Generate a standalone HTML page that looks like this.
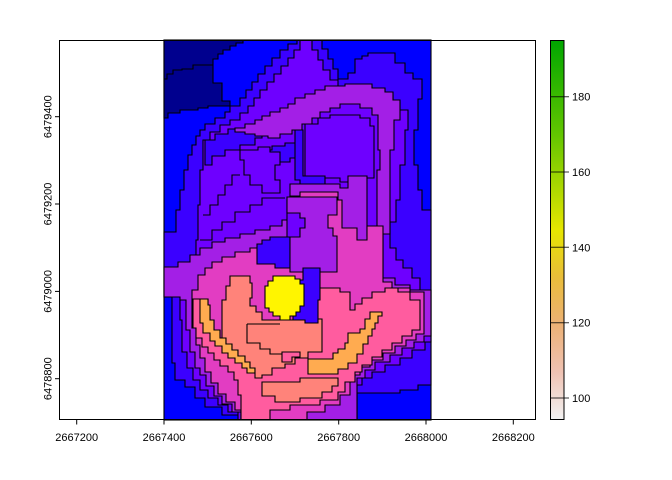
<!DOCTYPE html>
<html><head><meta charset="utf-8"><style>
html,body{margin:0;padding:0;background:#fff;}
svg{display:block;}
text{font-family:"Liberation Sans",Arial,sans-serif;font-size:11px;fill:#000;}
</style></head><body>
<svg width="672" height="480" viewBox="0 0 672 480" xmlns="http://www.w3.org/2000/svg">
<defs>
<linearGradient id="lg" x1="0" y1="1" x2="0" y2="0">
<stop offset="0" stop-color="#F2F2F2"/>
<stop offset="0.125" stop-color="#EFC2B3"/>
<stop offset="0.25" stop-color="#ECB176"/>
<stop offset="0.375" stop-color="#E9BD3A"/>
<stop offset="0.5" stop-color="#E6E600"/>
<stop offset="0.75" stop-color="#63C600"/>
<stop offset="1" stop-color="#00A600"/>
</linearGradient>
</defs>
<rect width="672" height="480" fill="#fff"/>
<g stroke="#000" stroke-width="1.1" stroke-linejoin="miter">
<rect x="164" y="40" width="267" height="380" fill="#0000FF"/>
<polygon fill="#00008E" points="164,40 243,40 243,43 236,43 236,46 230,46 230,50 223,50 223,54 218,54 218,59 213,59 213,83 222,83 222,101 230,101 230,106 208,106 208,108 198,108 198,110 180,110 180,113 168,113 168,118 164,118"/>
<polyline fill="none" points="164,79 167,79 167,74 173,74 173,70 182,70 182,69 193,69 193,65 213,65"/>
<polygon fill="#3B00FF" points="164,232 176,232 176,210 180,210 180,190 184,190 184,170 188,170 188,155 192,155 192,145 196,145 196,136 200,136 200,130 205,130 205,124 215,124 215,118 225,118 225,112 230,112 230,106 240,106 240,98 246,98 246,90 252,90 252,82 258,82 258,74 265,74 265,66 272,66 272,58 280,58 280,50 288,50 288,44 297,44 297,40 322,40 322,49 328,49 328,59 333,59 333,69 338,69 338,79 348,79 348,73 355,73 355,59 362,59 362,56 368,56 368,53 395,53 395,63 405,63 405,73 413,73 413,79 422,79 422,99 418,99 418,130 414,130 414,165 418,165 418,190 422,190 422,210 431,210 431,385 418,385 418,390 400,390 400,393 357,393 357,420 239,420 239,415 222,415 222,407 205,407 205,398 195,398 195,387 185,387 185,380 175,380 175,363 172,363 172,297 164,297"/>
<polygon fill="#6E00FF" points="300,40 312,40 312,50 318,50 318,60 323,60 323,70 330,70 330,80 338,80 338,86 372,86 372,90 385,90 385,95 393,95 393,102 400,102 400,110 408,110 408,130 405,130 405,165 400,165 400,200 396,200 396,222 390,222 390,248 396,248 396,260 403,260 403,268 412,268 412,278 420,278 420,290 431,290 431,342 425,342 425,350 412,350 412,358 400,358 400,365 385,365 385,372 372,372 372,378 362,378 362,385 357,385 357,420 238,420 238,412 228,412 228,405 218,405 218,398 208,398 208,390 200,390 200,380 193,380 193,368 187,368 187,352 182,352 182,320 180,320 180,300 185,300 185,288 190,288 190,270 196,270 196,240 198,240 198,205 200,205 200,170 203,170 203,140 210,140 210,132 220,132 220,125 230,125 230,120 240,120 240,113 248,113 248,106 254,106 254,98 260,98 260,90 267,90 267,82 274,82 274,74 281,74 281,66 288,66 288,58 294,58 294,50 300,50"/>
<polyline fill="none" points="203,215 210,215 210,205 218,205 218,195 225,195 225,185 232,185 232,175 240,175"/>
<polyline fill="none" points="200,240 212,240 212,230 222,230 222,222 235,222 235,212 250,212 250,205 262,205 262,198 285,198"/>
<polygon fill="#3B00FF" points="205,140 215,140 215,134 228,134 228,129 245,129 245,126 262,126 262,138 255,138 255,145 240,145 240,150 225,150 225,156 212,156 212,165 205,165"/>
<polygon fill="#3B00FF" points="265,150 272,150 272,146 285,146 285,143 297,143 297,158 290,158 290,162 278,162 278,158 265,158"/>
<polygon fill="#3B00FF" points="295,130 303,130 303,176 325,176 325,184 300,184 300,180 295,180"/>
<polygon fill="#6E00FF" points="240,150 258,150 258,147 270,147 270,152 280,152 280,165 275,165 275,180 280,180 280,193 262,193 262,185 250,185 250,175 244,175 244,160 240,160"/>
<polygon fill="#A31FE6" points="235,132 235,128 245,128 245,124 255,124 255,120 262,120 262,116 270,116 270,112 280,112 280,108 288,108 288,104 295,104 295,98 305,98 305,94 315,94 315,90 325,90 325,86 345,86 345,84 372,84 372,88 385,88 385,92 393,92 393,100 400,100 400,120 394,120 394,150 390,150 390,234 377,234 377,170 380,170 380,150 378,150 378,115 372,115 372,108 360,108 360,104 340,104 340,108 330,108 330,112 320,112 320,118 312,118 312,124 302,124 302,130 292,130 292,134 280,134 280,138 268,138 268,136 255,136 255,134 245,134 245,132"/>
<polygon fill="#6E00FF" points="305,124 318,124 318,118 330,118 330,115 360,115 360,118 370,118 370,126 374,126 374,178 360,178 360,182 340,182 340,178 325,178 325,176 305,176"/>
<polygon fill="#A31FE6" points="164,267 178,267 178,262 190,262 190,255 200,255 200,248 212,248 212,242 225,242 225,238 240,238 240,234 255,234 255,230 270,230 270,226 282,226 282,220 290,220 290,184 340,184 340,188 348,188 348,176 367,176 367,236 383,236 383,278 395,278 395,285 410,285 410,290 431,290 431,336 424,336 424,342 414,342 414,348 402,348 402,355 390,355 390,362 375,362 375,370 365,370 365,378 357,378 357,420 241,420 241,412 232,412 232,404 222,404 222,396 214,396 214,386 206,386 206,375 200,375 200,368 195,368 195,352 190,352 190,330 186,330 186,300 180,300 180,297 164,297"/>
<polygon fill="#E23DC2" points="192,290 198,290 198,275 205,275 205,268 212,268 212,262 222,262 222,257 235,257 235,252 250,252 250,248 262,248 262,244 275,244 275,240 290,240 290,196 300,196 300,192 338,192 338,200 342,200 342,228 357,228 357,240 367,240 367,226 383,226 383,282 392,282 392,288 410,288 410,292 424,292 424,334 416,334 416,340 406,340 406,346 395,346 395,353 383,353 383,360 370,360 370,367 360,367 360,375 350,375 350,395 340,395 340,405 325,405 325,412 307,412 307,420 241,420 241,410 235,410 235,402 226,402 226,394 218,394 218,383 211,383 211,372 205,372 205,358 200,358 200,345 196,345 196,328 192,328"/>
<polygon fill="#6E00FF" points="287,200 300,200 300,213 300,218 305,218 305,228 300,228 300,237 287,237"/>
<polygon fill="#3B00FF" points="257,244 262,244 262,240 270,240 270,237 290,237 290,268 275,268 275,264 257,264"/>
<polygon fill="#A31FE6" points="287,197 337,197 337,215 328,215 328,228 333,228 333,236 337,236 337,272 290,272 290,237 300,237 300,228 305,228 305,218 300,218 300,213 287,213"/>
<polygon fill="#FF5C9F" points="196,299 208,299 208,305 210,305 210,320 214,320 214,330 220,330 220,338 226,338 226,344 232,344 300,335 300,322 308,300 308,290 318,290 318,288 340,288 340,292 350,292 350,310 355,310 355,304 362,304 362,298 372,298 372,292 385,292 385,288 398,288 398,292 410,292 410,300 420,300 420,330 412,330 412,336 402,336 402,343 392,343 392,350 382,350 382,357 372,357 372,365 362,365 362,372 355,372 355,382 345,382 345,392 338,392 338,400 320,400 320,405 290,405 290,410 270,410 270,420 241,420 241,395 238,395 238,380 234,380 234,372 228,372 228,366 220,366 220,360 214,360 214,353 208,353 208,347 202,347 202,338 196,338 196,328 193,328 193,299"/>
<polygon fill="#FFAB50" points="200,299 208,299 208,305 210,305 210,320 214,320 214,330 220,330 220,338 226,338 226,344 232,344 232,350 238,350 238,356 245,356 245,362 250,362 250,368 255,368 255,373 247,373 247,368 242,368 242,363 235,363 235,358 228,358 228,353 222,353 222,346 215,346 215,341 210,341 210,333 203,333 203,323 200,323"/>
<polygon fill="#FFAB50" points="308,359 333,359 333,353 338,353 338,349 345,349 345,343 348,343 348,333 360,333 360,329 365,329 365,319 370,319 370,312 382,312 382,316 378,316 378,323 375,323 375,329 372,329 372,336 368,336 368,344 363,344 363,354 357,354 357,363 348,363 348,369 338,369 338,374 308,374"/>
<polygon fill="#FF837A" points="230,276 250,276 250,283 252,283 252,298 250,298 250,306 256,306 256,312 262,312 262,320 300,320 300,319 322,319 322,352 308,352 308,358 295,358 295,364 285,364 285,368 272,368 272,375 262,375 262,378 255,378 255,368 250,368 250,362 245,362 245,356 238,356 238,350 232,350 232,344 226,344 226,338 222,338 222,300 226,300 226,286 230,286"/>
<polygon fill="#FF837A" points="262,382 300,382 300,378 338,378 338,386 332,386 332,392 322,392 322,398 300,398 300,402 275,402 275,396 262,396"/>
<polygon fill="#FF5C9F" points="282,352 300,352 300,357 292,357 292,362 282,362"/>
<polyline fill="none" points="247,324 280,324"/>
<polyline fill="none" points="247,324 247,343 260,343 260,349 270,349 270,354 282,354"/>
<polygon fill="#3B00FF" points="303,268 320,268 320,300 318,300 318,323 305,323 305,320 293,320 293,300 300,300 300,280 303,280"/>
<polygon fill="#FFF500" points="273,276 295,276 295,279 300,279 300,284 304,284 304,306 300,306 300,312 296,312 296,316 290,316 290,320 280,320 280,316 273,316 273,312 269,312 269,308 265,308 265,286 268,286 268,281 273,281"/>
</g>
<rect x="59.5" y="40.5" width="476" height="379" fill="none" stroke="#000" stroke-width="1"/>
<g stroke="#000" stroke-width="1">
<line x1="76.7" y1="420" x2="76.7" y2="424.5"/>
<line x1="164" y1="420" x2="164" y2="424.5"/>
<line x1="251.3" y1="420" x2="251.3" y2="424.5"/>
<line x1="338.7" y1="420" x2="338.7" y2="424.5"/>
<line x1="426" y1="420" x2="426" y2="424.5"/>
<line x1="513.3" y1="420" x2="513.3" y2="424.5"/>
<line x1="55" y1="378.7" x2="59.5" y2="378.7"/>
<line x1="55" y1="291.4" x2="59.5" y2="291.4"/>
<line x1="55" y1="204" x2="59.5" y2="204"/>
<line x1="55" y1="116.7" x2="59.5" y2="116.7"/>
</g>
<g text-anchor="middle">
<text x="76.7" y="441">2667200</text>
<text x="164" y="441">2667400</text>
<text x="251.3" y="441">2667600</text>
<text x="338.7" y="441">2667800</text>
<text x="426" y="441">2668000</text>
<text x="513.3" y="441">2668200</text>
<text transform="translate(51.5,378.7) rotate(-90)">6478800</text>
<text transform="translate(51.5,291.4) rotate(-90)">6479000</text>
<text transform="translate(51.5,204) rotate(-90)">6479200</text>
<text transform="translate(51.5,116.7) rotate(-90)">6479400</text>
</g>
<rect x="550.5" y="40.5" width="13.5" height="379" fill="url(#lg)" stroke="#000" stroke-width="1"/>
<g stroke="#000" stroke-width="1" stroke-opacity="0.8">
<line x1="550" y1="96.7" x2="569" y2="96.7"/>
<line x1="550" y1="172" x2="569" y2="172"/>
<line x1="550" y1="247.3" x2="569" y2="247.3"/>
<line x1="550" y1="322.7" x2="569" y2="322.7"/>
<line x1="550" y1="398" x2="569" y2="398"/>
</g>
<g>
<text x="572" y="100.7">180</text>
<text x="572" y="176">160</text>
<text x="572" y="251.3">140</text>
<text x="572" y="326.7">120</text>
<text x="572" y="402">100</text>
</g>
</svg>
</body></html>
